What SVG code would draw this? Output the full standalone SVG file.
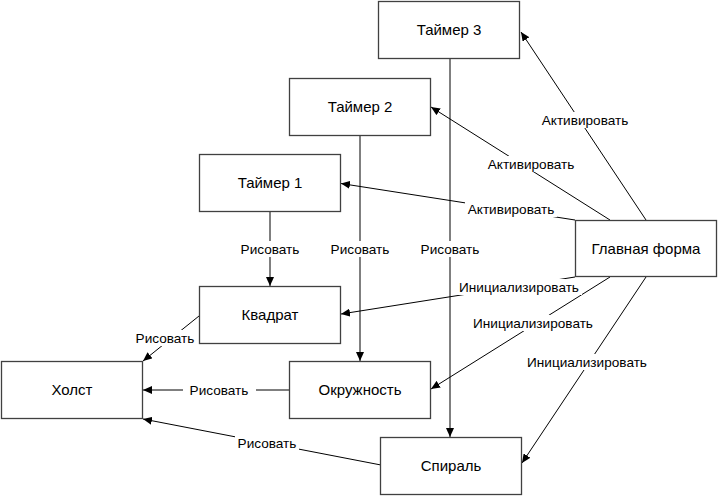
<svg xmlns="http://www.w3.org/2000/svg" width="718" height="496" viewBox="0 0 718 496">
<defs>
<marker id="ah" markerWidth="10" markerHeight="8" refX="9" refY="4" orient="auto" markerUnits="userSpaceOnUse">
<path d="M0,0 L9,4 L0,8 Z" fill="#000"/>
</marker>
<style>
.box{fill:#fff;stroke:#404040;stroke-width:1.3}
.bt{font-family:"Liberation Sans",Arial,sans-serif;font-size:15px;fill:#000;text-anchor:middle}
.ln{fill:none;stroke:#000;stroke-width:1;marker-end:url(#ah)}
.lb{font-family:"Liberation Sans",Arial,sans-serif;font-size:13.6px;fill:#000;text-anchor:middle}
.lbg{fill:#fff}
</style>
</defs>
<rect width="718" height="496" fill="#fff"/>
<g id="connectors">
<line class="ln" x1="646" y1="220" x2="521" y2="32"/>
<line class="ln" x1="610" y1="220" x2="431" y2="107"/>
<line class="ln" x1="575" y1="220" x2="341" y2="183.5"/>
<line class="ln" x1="270" y1="212" x2="270" y2="286"/>
<line class="ln" x1="360" y1="135" x2="360" y2="361"/>
<line class="ln" x1="450" y1="59" x2="450" y2="437"/>
<line class="ln" x1="575" y1="277" x2="341" y2="314"/>
<line class="ln" x1="610" y1="277" x2="431" y2="389"/>
<line class="ln" x1="646" y1="277" x2="522" y2="463"/>
<line class="ln" x1="199" y1="316" x2="143" y2="361"/>
<line class="ln" x1="289" y1="390" x2="143" y2="390"/>
<line class="ln" x1="381" y1="465" x2="143" y2="419"/>
<g id="labels">
<rect class="lbg" x="539" y="112" width="92" height="16"/>
<text class="lb" x="585" y="124.5">Активировать</text>
<rect class="lbg" x="485" y="156" width="92" height="16"/>
<text class="lb" x="531" y="168.5">Активировать</text>
<rect class="lbg" x="465" y="201" width="92" height="16"/>
<text class="lb" x="511" y="213.5">Активировать</text>
<rect class="lbg" x="238" y="241" width="64" height="16"/>
<text class="lb" x="270" y="253.5">Рисовать</text>
<rect class="lbg" x="328" y="241" width="64" height="16"/>
<text class="lb" x="360" y="253.5">Рисовать</text>
<rect class="lbg" x="418" y="241" width="64" height="16"/>
<text class="lb" x="450" y="253.5">Рисовать</text>
<rect class="lbg" x="456" y="279" width="126" height="16"/>
<text class="lb" x="519" y="291.5">Инициализировать</text>
<rect class="lbg" x="470" y="315" width="126" height="16"/>
<text class="lb" x="533" y="328">Инициализировать</text>
<rect class="lbg" x="524" y="354" width="126" height="16"/>
<text class="lb" x="587" y="367">Инициализировать</text>
<rect class="lbg" x="133" y="330" width="64" height="16"/>
<text class="lb" x="165" y="342.5">Рисовать</text>
<rect class="lbg" x="183" y="382" width="73" height="16"/>
<text class="lb" x="219" y="395">Рисовать</text>
<rect class="lbg" x="235" y="435" width="64" height="16"/>
<text class="lb" x="267" y="448">Рисовать</text>
</g>
</g>
<g id="timer3"><rect class="box" x="378.5" y="1.5" width="141" height="57"/><text class="bt" x="449" y="35">Таймер 3</text></g>
<g id="timer2"><rect class="box" x="289.5" y="78.5" width="141" height="57"/><text class="bt" x="360" y="112">Таймер 2</text></g>
<g id="timer1"><rect class="box" x="199.5" y="154.5" width="141" height="57"/><text class="bt" x="270" y="188">Таймер 1</text></g>
<g id="mainform"><rect class="box" x="575.5" y="220.5" width="141" height="56"/><text class="bt" x="646" y="254">Главная форма</text></g>
<g id="square"><rect class="box" x="199.5" y="286.5" width="141" height="57"/><text class="bt" x="270" y="320">Квадрат</text></g>
<g id="canvas"><rect class="box" x="1.5" y="361.5" width="141" height="57"/><text class="bt" x="72" y="395">Холст</text></g>
<g id="circle"><rect class="box" x="289.5" y="361.5" width="141" height="57"/><text class="bt" x="360" y="395">Окружность</text></g>
<g id="spiral"><rect class="box" x="380.5" y="437.5" width="141" height="57"/><text class="bt" x="451" y="471">Спираль</text></g>
</svg>
